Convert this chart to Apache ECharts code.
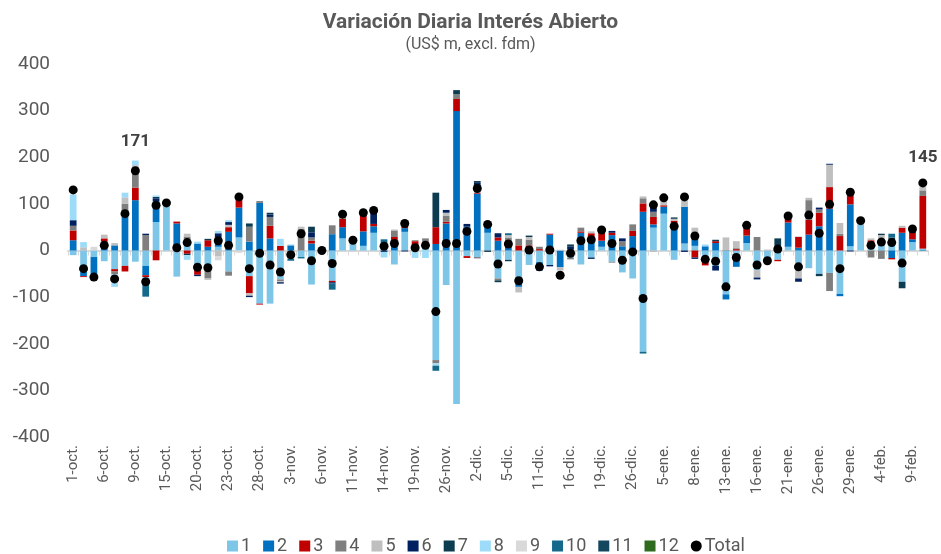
<!DOCTYPE html>
<html>
<head>
<meta charset="utf-8">
<script src="https://cdn.jsdelivr.net/npm/echarts@6/dist/echarts.min.js"></script>
<style>
  html, body { margin: 0; padding: 0; background: #fff; }
  #chart { width: 941px; height: 554px; }
</style>
</head>
<body>
<div id="chart"></div>
<script>
// fechas (dias habiles)
const dates = ['1-oct.','2-oct.','3-oct.','6-oct.','7-oct.','8-oct.','9-oct.','10-oct.','14-oct.','15-oct.','16-oct.','17-oct.','20-oct.','21-oct.','22-oct.','23-oct.','24-oct.','27-oct.','28-oct.','29-oct.','30-oct.','3-nov.','4-nov.','5-nov.','6-nov.','7-nov.','10-nov.','11-nov.','12-nov.','13-nov.','14-nov.','17-nov.','18-nov.','19-nov.','20-nov.','24-nov.','26-nov.','27-nov.','1-dic.','2-dic.','3-dic.','4-dic.','5-dic.','9-dic.','10-dic.','11-dic.','12-dic.','15-dic.','16-dic.','17-dic.','18-dic.','19-dic.','22-dic.','23-dic.','26-dic.','30-dic.','2-ene.','5-ene.','6-ene.','7-ene.','8-ene.','9-ene.','12-ene.','13-ene.','14-ene.','15-ene.','16-ene.','19-ene.','20-ene.','21-ene.','22-ene.','23-ene.','26-ene.','27-ene.','28-ene.','29-ene.','30-ene.','2-feb.','4-feb.','5-feb.','6-feb.','9-feb.','10-feb.'];

const s1 = [-10,-46,-14,-23,-40,-33,-24,-33,61,102,-56,12,-31,-38,8,-45,28,-55,-114,-114,-62,-18,-14,-73,1,-65,26,22,10,38,14,-30,40,12,14,-235,-74,-329,-12,-14,38,-60,-20,-67,-31,-25,-31,0,-16,-30,-15,8,-24,-47,-60,-217,49,79,-20,15,10,-16,-33,-94,-14,16,-42,-24,-20,8,-42,-38,-50,-48,-93,9,64,10,15,14,-67,18,4];
const s2 = [22,-9,-50,19,11,72,108,-20,45,0,58,10,15,8,8,40,64,19,102,26,0,11,0,15,0,35,24,0,31,14,0,22,8,0,0,14,58,299,51,122,14,21,16,-11,6,-10,34,-36,3,38,28,13,33,9,31,83,7,15,59,79,19,9,16,-11,-21,16,0,0,0,52,6,34,52,90,-5,90,0,4,8,-16,38,6,-1];
const s3 = [21,-2,0,7,-5,-12,27,-4,-21,0,4,-7,-21,14,8,10,20,-37,-2,27,10,0,0,6,0,-3,18,0,36,5,0,7,4,8,4,36,4,26,-4,2,0,7,0,11,5,3,2,0,0,3,9,18,5,0,11,18,16,3,5,0,-15,-16,4,0,3,16,0,0,-3,8,23,32,29,46,31,19,0,8,0,-3,11,16,113];
const s4 = [10,0,0,0,-6,28,30,33,0,0,0,8,0,-22,5,-9,0,32,4,19,-4,0,47,7,0,19,5,0,4,0,0,14,0,2,8,-7,13,10,0,-3,0,-4,12,14,12,5,0,0,-3,8,0,5,-2,11,14,11,11,0,0,0,0,0,0,2,2,0,29,0,0,0,0,42,7,-39,5,0,0,-15,-18,0,0,0,12];
const s5 = [0,7,0,8,5,14,18,0,0,0,0,6,0,-3,-12,5,0,-5,0,0,-2,0,4,0,0,0,3,0,0,0,0,2,3,0,0,0,6,0,0,5,0,0,5,-12,6,-5,0,-7,0,0,4,0,0,0,0,4,-3,9,4,14,20,0,0,26,15,6,-16,2,0,3,-18,5,0,48,23,8,0,4,10,0,4,6,9];
const s6 = [12,0,0,0,0,0,0,3,6,0,0,0,-3,0,8,6,0,-3,0,5,-3,0,0,11,0,-3,0,0,0,24,-3,0,-2,0,0,0,6,0,6,16,4,9,0,0,0,-3,-3,0,6,0,-3,0,4,6,0,0,9,0,0,-3,-3,0,-10,0,0,0,-4,0,0,3,-7,0,4,2,0,-2,0,0,0,0,0,0,0];
const s7 = [0,0,0,0,0,0,0,0,3,0,0,-3,0,3,0,0,0,7,0,4,0,0,0,12,0,0,0,0,0,5,0,0,0,0,0,74,0,9,0,4,-3,-4,-3,0,3,0,0,0,4,0,0,0,0,0,0,0,4,0,3,0,0,0,3,0,0,0,0,0,26,0,0,0,-5,0,0,0,0,0,3,14,-14,0,0];
const s8 = [55,11,0,0,-27,10,10,-12,3,0,0,-10,4,0,5,4,3,0,0,0,15,2,0,0,0,0,2,0,0,0,-12,0,4,-16,-16,-5,0,0,0,0,0,0,0,0,0,0,0,0,0,0,0,0,0,0,0,0,4,5,0,5,0,4,0,0,0,0,0,0,0,0,0,0,0,0,0,0,0,0,0,0,0,0,8];
const s9 = [0,0,8,0,0,0,0,0,0,0,0,0,0,0,-9,0,-5,0,0,0,0,0,0,0,0,0,0,0,0,0,0,0,0,0,0,0,0,0,0,0,0,0,0,0,0,0,0,2,0,0,0,0,0,0,0,0,0,0,0,0,0,0,0,0,0,0,0,0,0,0,2,0,0,0,0,0,0,0,0,0,0,0,0];
const s10 = [0,0,0,0,0,0,0,-30,0,0,0,0,0,0,0,0,0,0,0,0,0,-4,-3,0,0,-13,0,0,0,0,10,0,0,0,0,-11,0,0,0,0,0,0,4,0,0,0,0,0,0,0,0,0,0,0,0,-4,0,0,0,0,0,0,0,0,0,0,0,0,0,0,0,0,0,0,0,0,0,0,0,8,0,0,0];
const s11 = [0,0,0,0,0,0,0,0,0,0,0,0,0,0,0,0,0,0,0,0,0,0,0,0,0,0,0,0,0,0,0,0,0,0,0,0,0,0,0,0,0,0,0,0,0,0,0,0,0,0,0,0,0,0,0,0,0,0,0,0,0,0,0,0,0,0,0,0,0,0,0,0,0,0,0,0,0,0,0,0,0,0,0];
const s12 = [0,0,0,0,0,0,0,0,0,0,0,0,0,0,0,0,0,0,0,0,0,0,0,0,0,0,0,0,0,0,0,0,0,0,0,0,0,0,0,0,0,0,0,0,0,0,0,0,0,0,0,0,0,0,0,0,0,0,0,0,0,0,0,0,0,0,0,0,0,0,0,0,0,0,0,0,0,0,0,0,0,0,0];
const total = [130,-39,-57,11,-61,79,171,-67,97,102,6,17,-36,-37,21,11,115,-39,-6,-31,-46,-9,36,-22,0,-28,78,22,81,86,9,15,58,6,11,-131,15,15,41,133,56,-29,14,-65,1,-35,1,-53,-6,21,23,44,15,-21,-3,-103,98,113,52,115,31,-19,-23,-78,-15,54,-31,-22,3,74,-35,76,37,99,-39,125,64,11,18,17,-27,46,145];

// indices con etiqueta de total
const labeled = { 6: 16, 82: 12 };

const yTicks = [-400, 400, 100];

const names = ['1','2','3','4','5','6','7','8','9','10','11','12'];
const colors = ['#7DC6E8','#0070C0','#C00000','#7F7F7F','#BFBFBF','#002060','#0D3B50','#9DDCF8','#D9D9D9','#156A8C','#12475F','#2E6B1E'];
const stacks = [s1, s2, s3, s4, s5, s6, s7, s8, s9, s10, s11, s12];

const textColor = '#595959';
const font = 'Roboto';

const chart = echarts.init(document.getElementById('chart'));

const barSeries = names.map((n, i) => ({
  name: n,
  type: 'bar',
  stack: 'oi',
  barWidth: '65%',
  itemStyle: { color: colors[i] },
  emphasis: { disabled: true },
  data: stacks[i]
}));

const totalSeries = {
  name: 'Total',
  type: 'scatter',
  symbolSize: 9,
  z: 10,
  itemStyle: { color: '#000', opacity: 1 },
  emphasis: { disabled: true },
  data: total.map((v, i) => {
    if (labeled[i] === undefined) return v;
    return {
      value: v,
      label: {
        show: true,
        position: 'top',
        distance: labeled[i],
        formatter: '{c}',
        fontFamily: font,
        fontSize: 17,
        fontWeight: 'bold',
        color: '#404040'
      }
    };
  })
};

const option = {
  animation: false,
  textStyle: { fontFamily: font },
  title: {
    text: 'Variación Diaria Interés Abierto',
    subtext: '(US$ m, excl. fdm)',
    left: 'center',
    top: 7,
    itemGap: 4,
    textStyle: { fontFamily: font, fontSize: 21, fontWeight: 'bold', color: textColor },
    subtextStyle: { fontFamily: font, fontSize: 16, color: textColor }
  },
  legend: {
    top: 532,
    left: 222,
    itemWidth: 11,
    itemHeight: 11,
    itemGap: 12,
    textStyle: { fontFamily: font, fontSize: 18, color: textColor, padding: [0, 0, 0, -2] },
    data: names.map(n => ({ name: n, icon: 'rect' })).concat([{ name: 'Total', icon: 'circle' }])
  },
  grid: { left: 68, right: 13, top: 64, bottom: 117 },
  xAxis: [
    {
      type: 'category',
      data: dates,
      axisLine: { onZero: true, lineStyle: { color: '#D9D9D9', width: 2 } },
      axisTick: { show: true, interval: 0, length: 5, lineStyle: { color: '#D9D9D9', width: 1 } },
      axisLabel: { show: false },
      splitLine: { show: false }
    },
    {
      type: 'category',
      data: dates,
      position: 'bottom',
      axisLine: { show: false, onZero: false },
      axisTick: { show: false },
      axisLabel: {
        interval: 2,
        rotate: 90,
        margin: 8,
        fontFamily: font,
        fontSize: 15,
        color: textColor
      }
    }
  ],
  yAxis: {
    type: 'value',
    min: yTicks[0],
    max: yTicks[1],
    interval: yTicks[2],
    axisLine: { show: false },
    axisTick: { show: false },
    splitLine: { show: false },
    axisLabel: { fontFamily: font, fontSize: 19, color: textColor, margin: 18 }
  },
  series: barSeries.concat([totalSeries])
};

chart.setOption(option);
</script>
</body>
</html>
